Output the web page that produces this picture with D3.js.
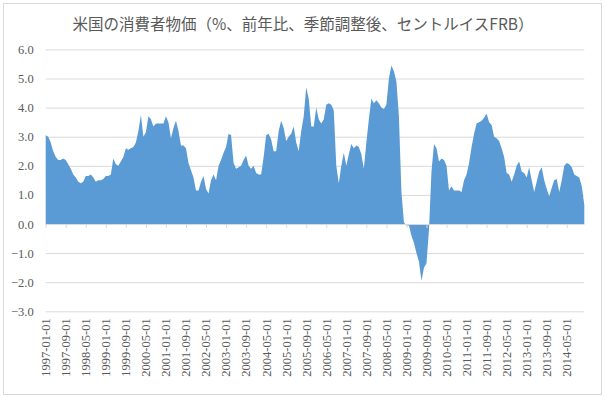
<!DOCTYPE html>
<html>
<head>
<meta charset="utf-8">
<script src="https://cdn.jsdelivr.net/npm/d3@7"></script>
<style>
    html, body { margin: 0; padding: 0; background: #fff; }
    #chart { width: 605px; height: 397px; }
</style>
</head>
<body>
<div id="chart"></div>
<script>
// US CPI, % y/y, seasonally adjusted (St. Louis FRB), monthly from 1997-01
const startMonth = '1997-01-01';
const cpi1997 = [3.05, 3.0, 2.8, 2.5, 2.3, 2.2, 2.2, 2.25, 2.2, 2.05, 1.9, 1.7];
const cpi1998 = [1.6, 1.45, 1.4, 1.45, 1.65, 1.65, 1.7, 1.6, 1.45, 1.5, 1.5, 1.55];
const cpi1999 = [1.65, 1.65, 1.7, 2.25, 2.05, 2.0, 2.15, 2.3, 2.6, 2.55, 2.6, 2.65];
const cpi2000 = [2.8, 3.2, 3.75, 3.0, 3.15, 3.7, 3.6, 3.35, 3.45, 3.45, 3.45, 3.45];
const cpi2001 = [3.7, 3.5, 2.95, 3.3, 3.55, 3.2, 2.7, 2.7, 2.6, 2.1, 1.85, 1.6];
const cpi2002 = [1.15, 1.15, 1.45, 1.65, 1.2, 1.05, 1.5, 1.7, 1.5, 2.0, 2.2, 2.45];
const cpi2003 = [2.65, 3.1, 3.05, 2.1, 1.9, 1.95, 2.0, 2.2, 2.35, 2.0, 1.9, 2.0];
const cpi2004 = [1.75, 1.7, 1.7, 2.3, 3.05, 3.1, 2.9, 2.5, 2.5, 3.2, 3.55, 3.3];
const cpi2005 = [2.85, 3.0, 3.1, 3.35, 2.8, 2.5, 3.2, 3.7, 4.7, 4.3, 3.35, 3.35];
const cpi2006 = [4.0, 3.6, 3.45, 3.6, 4.1, 4.15, 4.1, 3.9, 2.0, 1.4, 2.0, 2.45];
const cpi2007 = [2.0, 2.4, 2.75, 2.6, 2.7, 2.65, 2.4, 1.9, 2.8, 3.6, 4.3, 4.15];
const cpi2008 = [4.25, 4.15, 4.0, 3.95, 4.1, 5.0, 5.45, 5.25, 4.9, 3.7, 1.1, 0.05];
const cpi2009 = [-0.05, -0.05, -0.4, -0.65, -1.0, -1.3, -1.95, -1.5, -1.35, -0.2, 1.8, 2.75];
const cpi2010 = [2.6, 2.15, 2.25, 2.2, 2.0, 1.15, 1.3, 1.15, 1.15, 1.15, 1.1, 1.5];
const cpi2011 = [1.7, 2.1, 2.65, 3.1, 3.45, 3.5, 3.55, 3.65, 3.8, 3.5, 3.4, 3.0];
const cpi2012 = [2.95, 2.85, 2.6, 2.3, 1.75, 1.7, 1.45, 1.7, 2.0, 2.15, 1.8, 1.75];
const cpi2013 = [1.6, 1.95, 1.5, 1.1, 1.45, 1.8, 1.95, 1.5, 1.2, 0.95, 1.25, 1.5];
const cpi2014 = [1.55, 1.1, 1.5, 2.0, 2.1, 2.05, 1.95, 1.7, 1.65, 1.6, 1.3, 0.65];

const yTicks = [-3, -2, -1, 0, 1, 2, 3, 4, 5, 6];
const labelEvery = 8; // one category label every 8 months
const title = '米国の消費者物価（%、前年比、季節調整後、セントルイスFRB）';

const values = [].concat(cpi1997, cpi1998, cpi1999, cpi2000, cpi2001, cpi2002,
    cpi2003, cpi2004, cpi2005, cpi2006, cpi2007, cpi2008, cpi2009, cpi2010,
    cpi2011, cpi2012, cpi2013, cpi2014);

const parse = d3.timeParse('%Y-%m-%d');
const fmt = d3.timeFormat('%Y-%m-%d');
const months = d3.timeMonth.range(parse(startMonth), d3.timeMonth.offset(parse(startMonth), values.length)).map(fmt);
const data = months.map((m, i) => ({ month: m, value: values[i] }));

const width = 605, height = 397;
const plot = { left: 45.7, right: 584.3, top: 49.4, bottom: 311.3 };

const svg = d3.select('#chart').append('svg')
    .attr('width', width)
    .attr('height', height);

// outer frame
svg.append('rect')
    .attr('x', 3.5).attr('y', 3.5)
    .attr('width', 598).attr('height', 391)
    .attr('fill', '#fff')
    .attr('stroke', '#d9d9d9');

const x = d3.scalePoint()
    .domain(months)
    .range([plot.left, plot.right]);

const y = d3.scaleLinear()
    .domain([-3, 6])
    .range([plot.bottom, plot.top]);

// title
svg.append('text')
    .attr('x', 303)
    .attr('y', 30)
    .attr('text-anchor', 'middle')
    .style('font-family', '"Noto Sans CJK JP", sans-serif')
    .style('font-size', '15.5px')
    .style('fill', '#595959')
    .text(title);

// horizontal gridlines + y labels
const yAxis = d3.axisLeft(y)
    .tickValues(yTicks)
    .tickSize(-(plot.right - plot.left))
    .tickPadding(12)
    .tickFormat(d3.format('.1f'));

const yG = svg.append('g')
    .attr('transform', `translate(${plot.left},0)`)
    .call(yAxis);
yG.select('.domain').remove();
yG.selectAll('.tick line').attr('stroke', '#d9d9d9');
yG.selectAll('.tick text')
    .style('font-family', '"Liberation Serif", serif')
    .style('font-size', '12.5px')
    .style('fill', '#595959');

// area
const area = d3.area()
    .x(d => x(d.month))
    .y0(y(0))
    .y1(d => y(d.value));

svg.append('path')
    .datum(data)
    .attr('d', area)
    .attr('fill', '#5b9bd5');

// category axis along zero line (ticks only)
const tickMonths = months.filter((m, i) => i % labelEvery === 0);
const xAxis = d3.axisBottom(x)
    .tickValues(tickMonths)
    .tickSize(4)
    .tickFormat('');

const xG = svg.append('g')
    .attr('transform', `translate(0,${y(0)})`)
    .call(xAxis);
xG.select('.domain')
    .attr('stroke', '#d9d9d9')
    .attr('d', `M${plot.left},0.5H${plot.right}`);
xG.selectAll('.tick line').attr('stroke', '#d9d9d9');

// category labels at the bottom, rotated
svg.append('g')
    .selectAll('text')
    .data(tickMonths)
    .enter()
    .append('text')
    .attr('transform', d => `translate(${x(d)},${plot.bottom + 7}) rotate(-90)`)
    .attr('text-anchor', 'end')
    .attr('dy', '0.35em')
    .style('font-family', '"Liberation Serif", serif')
    .style('font-size', '12.5px')
    .style('fill', '#595959')
    .text(d => d);
</script>
</body>
</html>
